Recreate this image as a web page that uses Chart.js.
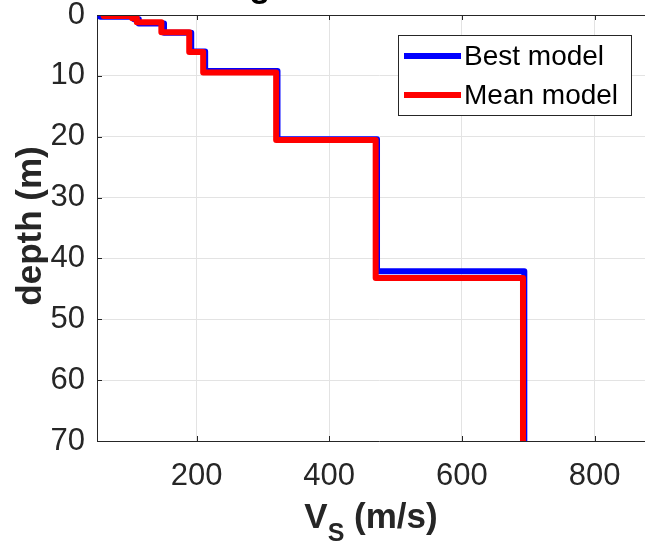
<!DOCTYPE html>
<html><head><meta charset="utf-8">
<script src="https://cdn.jsdelivr.net/npm/chart.js@4/dist/chart.umd.min.js"></script>
<style>
html,body{margin:0;padding:0;overflow:hidden;background:#fff;width:645px;height:545px}
#wrap{position:absolute;left:0;top:0;width:680px;height:545px}
</style>
</head><body><div id="wrap"><canvas id="c" width="680" height="545"></canvas></div>
<script>
// ---- data ----
const seriesNames = ['Best model', 'Mean model'];
const bestVs = [55, 106, 113, 151, 192, 213, 322, 472, 694];
const bestBottomDepth = [0.3, 0.7, 1.4, 2.9, 6.0, 9.2, 20.4, 42.1, 70];
const meanVs = [60, 103, 110, 147, 189, 210, 320, 470, 692];
const meanBottomDepth = [0.15, 0.55, 1.2, 2.85, 6.1, 9.45, 20.55, 43.2, 70];
const xTickValues = [200, 400, 600, 800];
const yTickValues = [0, 10, 20, 30, 40, 50, 60, 70];
const xRange = [50, 900];
const yRange = [0, 70];
const titleText = 'g';
const xTitleMain = 'V', xTitleSub = 'S', xTitleRest = ' (m/s)';
const yTitle = 'depth (m)';

function stepProfile(vs, bottoms) {
  const pts = []; let top = 0;
  vs.forEach((v, i) => { pts.push({x: v, y: top}); pts.push({x: v, y: bottoms[i]}); top = bottoms[i]; });
  return pts;
}

const FONT = '"Liberation Sans", Arial, Helvetica, sans-serif';
const AX = '#262626';

const decor = {
  id: 'decor',
  afterDraw(chart) {
    const ctx = chart.ctx, a = chart.chartArea;
    const xs = chart.scales.x, ys = chart.scales.y;
    ctx.save();
    // top border
    ctx.strokeStyle = AX; ctx.lineWidth = 1;
    ctx.beginPath(); ctx.moveTo(a.left, Math.round(a.top) + 0.5); ctx.lineTo(a.right, Math.round(a.top) + 0.5); ctx.stroke();
    // inward ticks
    ctx.beginPath();
    yTickValues.forEach(v => { const y = Math.round(ys.getPixelForValue(v)) + 0.5; ctx.moveTo(a.left, y); ctx.lineTo(a.left + 5, y); });
    xTickValues.forEach(v => { const x = Math.round(xs.getPixelForValue(v)) + 0.5; ctx.moveTo(x, a.bottom); ctx.lineTo(x, a.bottom - 5); ctx.moveTo(x, a.top); ctx.lineTo(x, a.top + 5); });
    ctx.stroke();
    // legend
    const lx = 398.5, ly = 35.5, lw = 233, lh = 80;
    ctx.fillStyle = '#fff'; ctx.fillRect(lx, ly, lw, lh);
    ctx.strokeStyle = AX; ctx.lineWidth = 1; ctx.strokeRect(lx, ly, lw, lh);
    const rows = [56, 95];
    chart.data.datasets.forEach((ds, i) => {
      ctx.strokeStyle = ds.borderColor; ctx.lineWidth = 6; ctx.lineCap = 'butt';
      ctx.beginPath(); ctx.moveTo(404, rows[i]); ctx.lineTo(461, rows[i]); ctx.stroke();
      ctx.fillStyle = '#000'; ctx.font = '28px ' + FONT; ctx.textAlign = 'left'; ctx.textBaseline = 'middle';
      ctx.fillText(ds.label, 464, rows[i] + 1);
    });
    // y title
    ctx.save();
    ctx.translate(31, 226); ctx.rotate(-Math.PI / 2);
    ctx.fillStyle = AX; ctx.font = 'bold 35px ' + FONT; ctx.textAlign = 'center'; ctx.textBaseline = 'middle';
    ctx.fillText(yTitle, 0, 0);
    ctx.restore();
    // x title with subscript
    ctx.fillStyle = AX; ctx.textAlign = 'left'; ctx.textBaseline = 'alphabetic';
    ctx.font = 'bold 35px ' + FONT; const wV = ctx.measureText(xTitleMain).width;
    const wR = ctx.measureText(xTitleRest).width;
    ctx.font = 'bold 25px ' + FONT; const wS = ctx.measureText(xTitleSub).width;
    let x0 = 371 - (wV + wS + wR) / 2; const base = 528;
    ctx.font = 'bold 35px ' + FONT; ctx.fillText(xTitleMain, x0, base);
    ctx.font = 'bold 25px ' + FONT; ctx.fillText(xTitleSub, x0 + wV, base + 13);
    ctx.font = 'bold 35px ' + FONT; ctx.fillText(xTitleRest, x0 + wV + wS, base);
    // clipped title
    ctx.font = 'bold 35px ' + FONT; ctx.textAlign = 'center'; ctx.fillStyle = '#000';
    ctx.fillText(titleText, 260, -3);
    ctx.restore();
  }
};

function zeroPad(s) { s.paddingTop = 0; s.paddingBottom = 0; s.paddingLeft = 0; s.paddingRight = 0; }

new Chart(document.getElementById('c'), {
  type: 'scatter',
  data: {
    datasets: [
      { label: seriesNames[0], data: stepProfile(bestVs, bestBottomDepth), showLine: true, borderColor: '#0000ff', backgroundColor: '#0000ff', borderWidth: 6, pointRadius: 0, borderJoinStyle: 'round', borderCapStyle: 'round', order: 1 },
      { label: seriesNames[1], data: stepProfile(meanVs, meanBottomDepth), showLine: true, borderColor: '#ff0000', backgroundColor: '#ff0000', borderWidth: 6, pointRadius: 0, borderJoinStyle: 'round', borderCapStyle: 'round', order: 0 }
    ]
  },
  options: {
    responsive: false, devicePixelRatio: 1, animation: false,
    events: [],
    layout: { padding: { top: 15, right: 19, left: 0, bottom: 0 } },
    plugins: { legend: { display: false }, tooltip: { enabled: false }, title: { display: false } },
    scales: {
      x: {
        type: 'linear', min: xRange[0], max: xRange[1],
        afterBuildTicks: s => { s.ticks = xTickValues.map(v => ({value: v})); },
        afterFit: s => { s.height = 104; zeroPad(s); },
        grid: { color: '#e3e3e3', lineWidth: 1, drawTicks: false },
        border: { display: true, color: AX, width: 1 },
        ticks: { font: { size: 31, family: FONT }, color: AX, padding: 17, maxRotation: 0, callback: v => String(v) }
      },
      y: {
        type: 'linear', reverse: true, min: yRange[0], max: yRange[1],
        afterBuildTicks: s => { s.ticks = yTickValues.map(v => ({value: v})); },
        afterFit: s => { s.width = 97; zeroPad(s); },
        grid: { color: '#e3e3e3', lineWidth: 1, drawTicks: false },
        border: { display: true, color: AX, width: 1 },
        ticks: { font: { size: 31, family: FONT }, color: AX, padding: 12, callback: v => String(v) }
      }
    }
  },
  plugins: [decor]
});
</script>
</body></html>
